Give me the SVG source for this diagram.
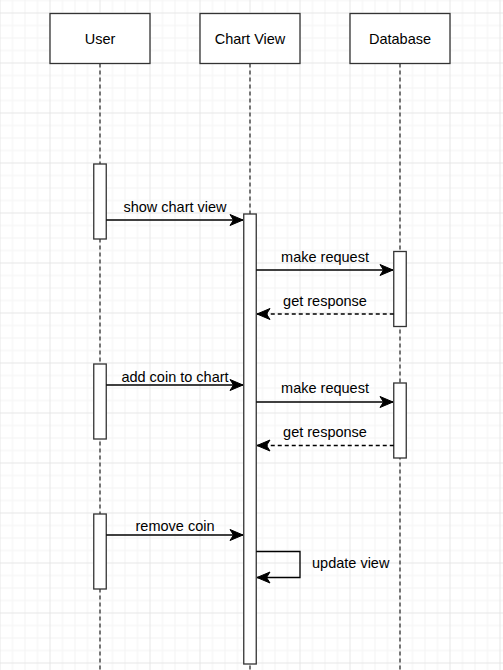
<svg xmlns="http://www.w3.org/2000/svg" width="503" height="670" viewBox="0 0 503 670">
<defs>
<pattern id="grid" patternUnits="userSpaceOnUse" x="-0.5" y="12.5" width="50" height="50">
<rect x="12.5" y="0" width="1" height="50" fill="#f3f3f3"/>
<rect x="25" y="0" width="1" height="50" fill="#f3f3f3"/>
<rect x="37.5" y="0" width="1" height="50" fill="#f3f3f3"/>
<rect x="0" y="12.5" width="50" height="1" fill="#f3f3f3"/>
<rect x="0" y="25" width="50" height="1" fill="#f3f3f3"/>
<rect x="0" y="37.5" width="50" height="1" fill="#f3f3f3"/>
<rect x="0" y="0" width="1" height="50" fill="#e6e6e6"/>
<rect x="0" y="0" width="50" height="1" fill="#e6e6e6"/>
</pattern>
<marker id="arr" markerUnits="userSpaceOnUse" markerWidth="16" markerHeight="14" viewBox="-14 -7 16 14" refX="0" refY="0" orient="auto" overflow="visible">
<path d="M0,0 L-13,-5.5 L-9.5,0 L-13,5.5 Z" fill="#000" stroke="#000" stroke-width="1"/>
</marker>
</defs>
<style>
.box{fill:#fff;stroke:#333;stroke-width:1.3}
.act{fill:#fff;stroke:#333;stroke-width:1.3}
.life{stroke:#333;stroke-width:1.3;stroke-dasharray:4 3;fill:none}
.msg{stroke:#000;stroke-width:1.3;fill:none;marker-end:url(#arr)}
.ret{stroke-dasharray:4 3}
text{font-family:"Liberation Sans",Arial,sans-serif;font-size:14.5px;fill:#000}
.c{text-anchor:middle}
</style>
<rect width="503" height="670" fill="#fff"/>
<rect width="503" height="670" fill="url(#grid)"/>

<g id="user">
<line class="life" x1="100" y1="63.5" x2="100" y2="670"/>
<rect class="box" x="50" y="13.5" width="100" height="50"/>
<text class="c" x="100" y="43.5">User</text>
<rect class="act" x="93.75" y="164" width="12.5" height="75"/>
<rect class="act" x="93.75" y="364" width="12.5" height="75"/>
<rect class="act" x="93.75" y="514" width="12.5" height="75"/>
</g>

<g id="chartview">
<line class="life" x1="250" y1="63.5" x2="250" y2="670"/>
<rect class="box" x="200" y="13.5" width="100" height="50"/>
<text class="c" x="250" y="43.5">Chart View</text>
<rect class="act" x="243.75" y="214" width="12.5" height="450"/>
</g>

<g id="database">
<line class="life" x1="400" y1="63.5" x2="400" y2="670"/>
<rect class="box" x="350" y="13.5" width="100" height="50"/>
<text class="c" x="400" y="43.5">Database</text>
<rect class="act" x="393.75" y="251.5" width="12.5" height="75"/>
<rect class="act" x="393.75" y="383" width="12.5" height="75"/>
</g>

<g id="connectors">
<path class="msg" d="M106.25,220 L243,220"/>
<text class="c" x="175" y="212">show chart view</text>
<path class="msg" d="M256.25,270 L393,270"/>
<text class="c" x="325" y="262">make request</text>
<path class="msg ret" d="M393.75,314 L257,314"/>
<text class="c" x="325" y="306">get response</text>
<path class="msg" d="M106.25,385 L243,385"/>
<text class="c" x="175" y="382">add coin to chart</text>
<path class="msg" d="M256.25,402 L393,402"/>
<text class="c" x="325" y="393">make request</text>
<path class="msg ret" d="M393.75,445.5 L257,445.5"/>
<text class="c" x="325" y="437">get response</text>
<path class="msg" d="M106.25,535 L243,535"/>
<text class="c" x="175" y="531">remove coin</text>
<path class="msg" d="M256.25,551.5 L300,551.5 L300,577.5 L257,577.5"/>
<text x="312" y="568">update view</text>
</g>
</svg>
